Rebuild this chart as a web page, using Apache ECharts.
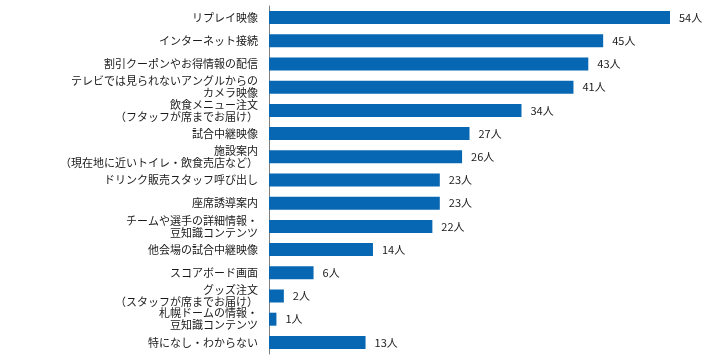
<!DOCTYPE html>
<html><head><meta charset="utf-8">
<script src="https://cdn.jsdelivr.net/npm/echarts@6/dist/echarts.min.js"></script>
<style>html,body{margin:0;padding:0;background:#fff}#c{width:703px;height:359px}</style>
</head><body><div id="c"></div>
<script>
const categories = [
  'リプレイ映像',
  'インターネット接続',
  '割引クーポンやお得情報の配信',
  'テレビでは見られないアングルからの\nカメラ映像',
  '飲食メニュー注文\n（フタッフが席までお届け）',
  '試合中継映像',
  '施設案内\n（現在地に近いトイレ・飲食売店など）',
  'ドリンク販売スタッフ呼び出し',
  '座席誘導案内',
  'チームや選手の詳細情報・\n豆知識コンテンツ',
  '他会場の試合中継映像',
  'スコアボード画面',
  'グッズ注文\n（スタッフが席までお届け）',
  '札幌ドームの情報・\n豆知識コンテンツ',
  '特になし・わからない'
];
const values = [54, 45, 43, 41, 34, 27, 26, 23, 23, 22, 14, 6, 2, 1, 13];
const unit = '人';

const chart = echarts.init(document.getElementById('c'));
chart.setOption({
  animation: false,
  grid: { left: 269, right: 33, top: 6, bottom: 5 },
  xAxis: { type: 'value', min: 0, max: 54, show: false },
  yAxis: {
    type: 'category', inverse: true, data: categories,
    axisLine: { show: true, lineStyle: { color: '#7f7f7f', width: 1 } },
    axisTick: { show: false },
    axisLabel: { margin: 11, fontSize: 11, lineHeight: 12, color: '#1a1a1a',
      fontFamily: '"Noto Sans CJK JP", sans-serif', align: 'right' }
  },
  series: [{
    type: 'bar', data: values, barWidth: 13,
    itemStyle: { color: '#0867b3' },
    label: { show: true, position: 'right', distance: 9, fontSize: 11, color: '#1a1a1a',
      fontFamily: '"Noto Sans CJK JP", sans-serif', formatter: p => p.value + unit }
  }]
});
</script></body></html>
